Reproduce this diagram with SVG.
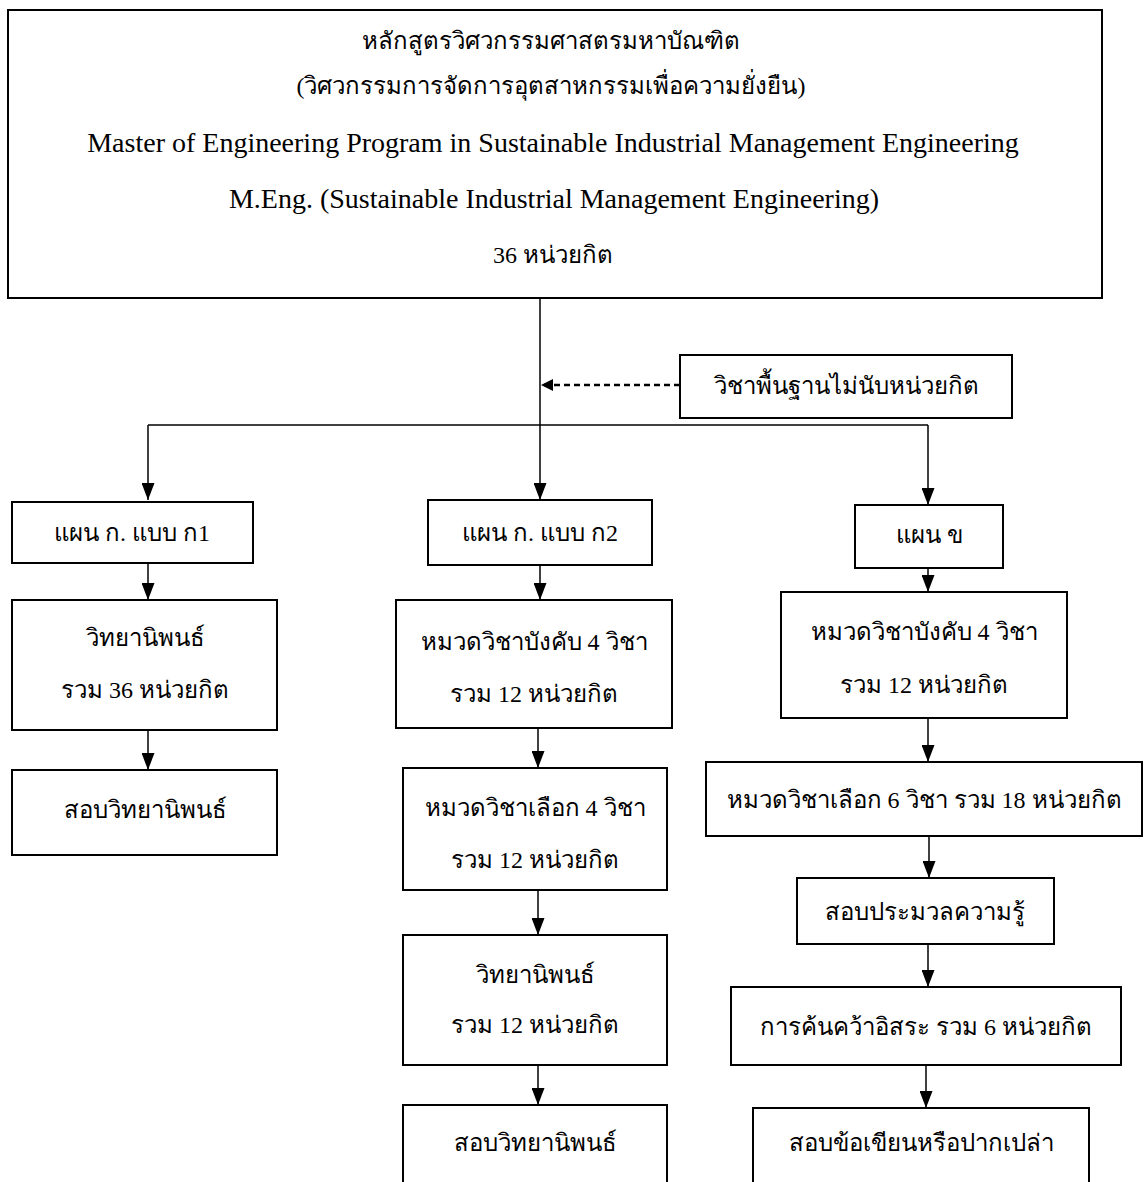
<svg xmlns="http://www.w3.org/2000/svg" width="1144" height="1182" viewBox="0 0 1144 1182">
<style>
.box{fill:#fff;stroke:#000;stroke-width:2}
.t{font-family:"Liberation Serif","DejaVu Serif",serif;font-size:24px;fill:#000;text-anchor:middle}
.e{font-size:28px}
.c{stroke:#000;stroke-width:1.5;fill:none}
.d{stroke:#000;stroke-width:2.5;fill:none;stroke-dasharray:6,4}
</style>
<defs>
<marker id="ah" viewBox="0 0 10 10" refX="10" refY="5" markerWidth="12" markerHeight="12" markerUnits="userSpaceOnUse" orient="auto" preserveAspectRatio="none">
<path d="M0,0 L10,5 L0,10 Z" fill="#000"/>
</marker>
<marker id="ah2" viewBox="0 0 10 10" refX="10" refY="5" markerWidth="17" markerHeight="13" markerUnits="userSpaceOnUse" orient="auto" preserveAspectRatio="none">
<path d="M0,0 L10,5 L0,10 Z" fill="#000"/>
</marker>
</defs>
<rect width="1144" height="1182" fill="#fff"/>
<g id="connectors">
<line class="c" x1="540" y1="298" x2="540" y2="500" marker-end="url(#ah2)"/>
<line class="d" x1="680" y1="385" x2="541" y2="385" marker-end="url(#ah)"/>
<line class="c" x1="148" y1="425" x2="928" y2="425"/>
<line class="c" x1="148" y1="425" x2="148" y2="500" marker-end="url(#ah2)"/>
<line class="c" x1="928" y1="425" x2="928" y2="505" marker-end="url(#ah2)"/>
<line class="c" x1="148" y1="563" x2="148" y2="600" marker-end="url(#ah2)"/>
<line class="c" x1="148" y1="730" x2="148" y2="770" marker-end="url(#ah2)"/>
<line class="c" x1="540" y1="565" x2="540" y2="600" marker-end="url(#ah2)"/>
<line class="c" x1="538" y1="728" x2="538" y2="768" marker-end="url(#ah2)"/>
<line class="c" x1="538" y1="890" x2="538" y2="935" marker-end="url(#ah2)"/>
<line class="c" x1="538" y1="1065" x2="538" y2="1105" marker-end="url(#ah2)"/>
<line class="c" x1="928" y1="568" x2="928" y2="592" marker-end="url(#ah2)"/>
<line class="c" x1="928" y1="718" x2="928" y2="762" marker-end="url(#ah2)"/>
<line class="c" x1="929" y1="836" x2="929" y2="878" marker-end="url(#ah2)"/>
<line class="c" x1="928" y1="944" x2="928" y2="987" marker-end="url(#ah2)"/>
<line class="c" x1="926" y1="1065" x2="926" y2="1108" marker-end="url(#ah2)"/>
</g>
<g id="top">
<rect class="box" x="8" y="10" width="1094" height="288"/>
<text class="t" x="551" y="49">หลักสูตรวิศวกรรมศาสตรมหาบัณฑิต</text>
<text class="t" x="551" y="94">(วิศวกรรมการจัดการอุตสาหกรรมเพื่อความยั่งยืน)</text>
<text class="t e" x="553" y="152">Master of Engineering Program in Sustainable Industrial Management Engineering</text>
<text class="t e" x="554" y="208">M.Eng. (Sustainable Industrial Management Engineering)</text>
<text class="t" x="553" y="263">36 หน่วยกิต</text>
</g>
<g id="basic">
<rect class="box" x="680" y="355" width="332" height="63"/>
<text class="t" x="846" y="394">วิชาพื้นฐานไม่นับหน่วยกิต</text>
</g>
<g id="planA1">
<rect class="box" x="12" y="502" width="241" height="61"/>
<text class="t" x="132" y="541">แผน ก. แบบ ก1</text>
</g>
<g id="thesisA1">
<rect class="box" x="12" y="600" width="265" height="130"/>
<text class="t" x="145" y="646">วิทยานิพนธ์</text>
<text class="t" x="145" y="698">รวม 36 หน่วยกิต</text>
</g>
<g id="examA1">
<rect class="box" x="12" y="770" width="265" height="85"/>
<text class="t" x="145" y="818">สอบวิทยานิพนธ์</text>
</g>
<g id="planA2">
<rect class="box" x="428" y="500" width="224" height="65"/>
<text class="t" x="540" y="541">แผน ก. แบบ ก2</text>
</g>
<g id="coreA2">
<rect class="box" x="396" y="600" width="276" height="128"/>
<text class="t" x="534" y="650">หมวดวิชาบังคับ 4 วิชา</text>
<text class="t" x="534" y="702">รวม 12 หน่วยกิต</text>
</g>
<g id="electA2">
<rect class="box" x="403" y="768" width="264" height="122"/>
<text class="t" x="535" y="816">หมวดวิชาเลือก 4 วิชา</text>
<text class="t" x="535" y="868">รวม 12 หน่วยกิต</text>
</g>
<g id="thesisA2">
<rect class="box" x="403" y="935" width="264" height="130"/>
<text class="t" x="535" y="983">วิทยานิพนธ์</text>
<text class="t" x="535" y="1033">รวม 12 หน่วยกิต</text>
</g>
<g id="examA2">
<rect class="box" x="403" y="1105" width="264" height="90"/>
<text class="t" x="535" y="1151">สอบวิทยานิพนธ์</text>
</g>
<g id="planB">
<rect class="box" x="855" y="505" width="148" height="63"/>
<text class="t" x="929" y="543">แผน ข</text>
</g>
<g id="coreB">
<rect class="box" x="781" y="592" width="286" height="126"/>
<text class="t" x="924" y="640">หมวดวิชาบังคับ 4 วิชา</text>
<text class="t" x="924" y="693">รวม 12 หน่วยกิต</text>
</g>
<g id="electB">
<rect class="box" x="706" y="762" width="436" height="74"/>
<text class="t" x="924" y="808">หมวดวิชาเลือก 6 วิชา รวม 18 หน่วยกิต</text>
</g>
<g id="compB">
<rect class="box" x="797" y="878" width="257" height="66"/>
<text class="t" x="925" y="920">สอบประมวลความรู้</text>
</g>
<g id="researchB">
<rect class="box" x="731" y="987" width="390" height="78"/>
<text class="t" x="926" y="1035">การค้นคว้าอิสระ รวม 6 หน่วยกิต</text>
</g>
<g id="examB">
<rect class="box" x="753" y="1108" width="336" height="90"/>
<text class="t" x="921" y="1151">สอบข้อเขียนหรือปากเปล่า</text>
</g>
</svg>
